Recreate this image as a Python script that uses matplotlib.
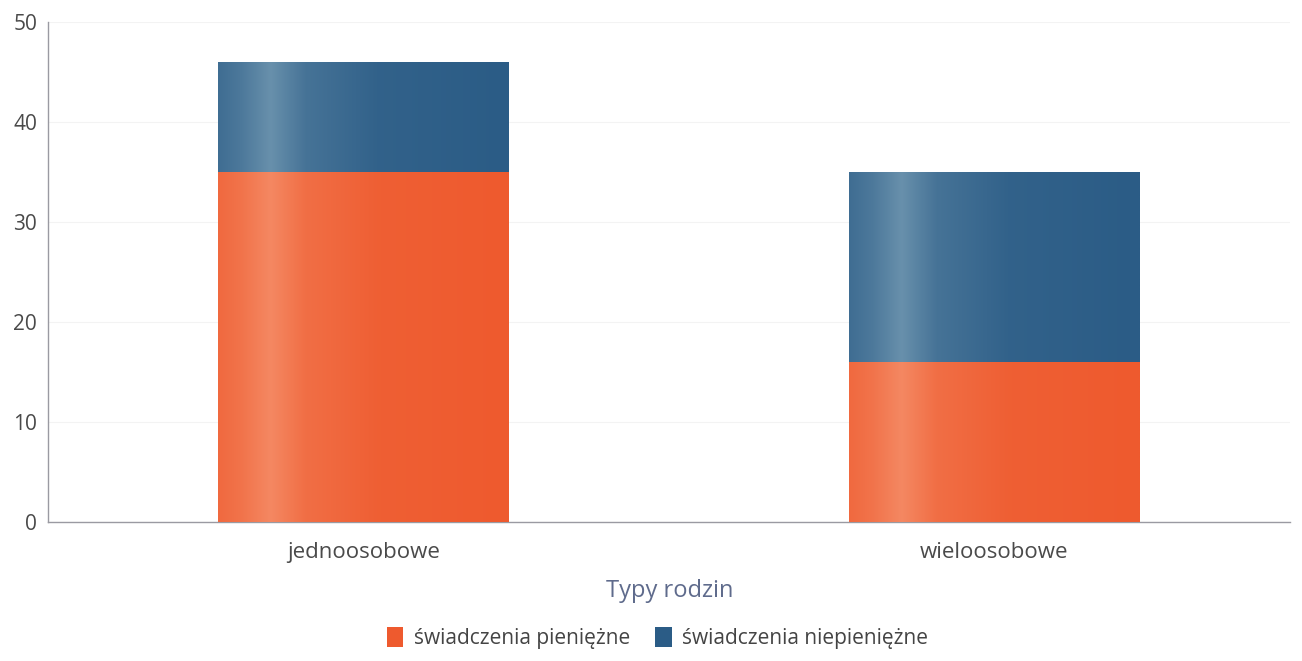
import numpy as np
import matplotlib.pyplot as plt
from matplotlib.colors import to_rgb
from matplotlib.patches import Patch

plt.rcParams['font.family'] = ['Open Sans', 'DejaVu Sans']

categories = ['jednoosobowe', 'wieloosobowe']
pieniezne = [35, 16]
niepieniezne = [11, 19]
series_names = ['świadczenia pieniężne', 'świadczenia niepieniężne']
yticks = [0, 10, 20, 30, 40, 50]

orange = '#ee5a2e'
orange_light = '#f58d68'
blue = '#2b5c86'
blue_light = '#6f96b0'


def shade(ax, patches, base, light):
    # cylinder-like gradient across each bar
    xs = np.linspace(0, 1, 200)
    w = np.interp(xs, [0, 0.08, 0.18, 0.3, 0.55, 1], [0.3, 0.5, 0.9, 0.4, 0.1, 0.0])
    b = np.array(to_rgb(base))
    l = np.array(to_rgb(light))
    img = (b[None, :] * (1 - w[:, None]) + l[None, :] * w[:, None])[None, :, :]
    for p in patches:
        x0, y0 = p.get_x(), p.get_y()
        x1, y1 = x0 + p.get_width(), y0 + p.get_height()
        im = ax.imshow(img, extent=[x0, x1, y0, y1], aspect='auto',
                       interpolation='bilinear', zorder=3)
        im.set_clip_path(p)


fig = plt.figure(figsize=(13.02, 6.61), dpi=100)
ax = fig.add_axes([0.037, 0.21, 0.954, 0.757])

x = np.arange(len(categories))
b1 = ax.bar(x, pieniezne, width=0.46, color=orange, zorder=2)
b2 = ax.bar(x, niepieniezne, width=0.46, bottom=pieniezne, color=blue, zorder=2)
shade(ax, b1, orange, orange_light)
shade(ax, b2, blue, blue_light)

ax.set_xlim(-0.5, 1.47)
ax.set_ylim(0, 50)
ax.set_yticks(yticks)
ax.set_xticks(x)
ax.set_xticklabels(categories)
ax.tick_params(axis='y', length=0, labelsize=15, colors='#4a4a4a', pad=8)
ax.tick_params(axis='x', length=0, labelsize=16, colors='#4a4a4a', pad=14)
ax.grid(axis='y', color='#f3f3f3', linewidth=0.8, zorder=0)

for s in ['top', 'right']:
    ax.spines[s].set_visible(False)
for s in ['left', 'bottom']:
    ax.spines[s].set_color('#9a9aa2')
    ax.spines[s].set_linewidth(1.0)

ax.set_xlabel('Typy rodzin', fontsize=17, color='#5f6b8c', labelpad=12)

handles = [Patch(facecolor=orange), Patch(facecolor=blue)]
fig.legend(handles, series_names, loc='center', bbox_to_anchor=(0.505, 0.035),
           ncol=2, frameon=False, fontsize=15, handlelength=0.8, handleheight=1.1,
           handletextpad=0.5, columnspacing=1.2, labelcolor='#444444')

fig.savefig('out.png', dpi=100, facecolor='white')
